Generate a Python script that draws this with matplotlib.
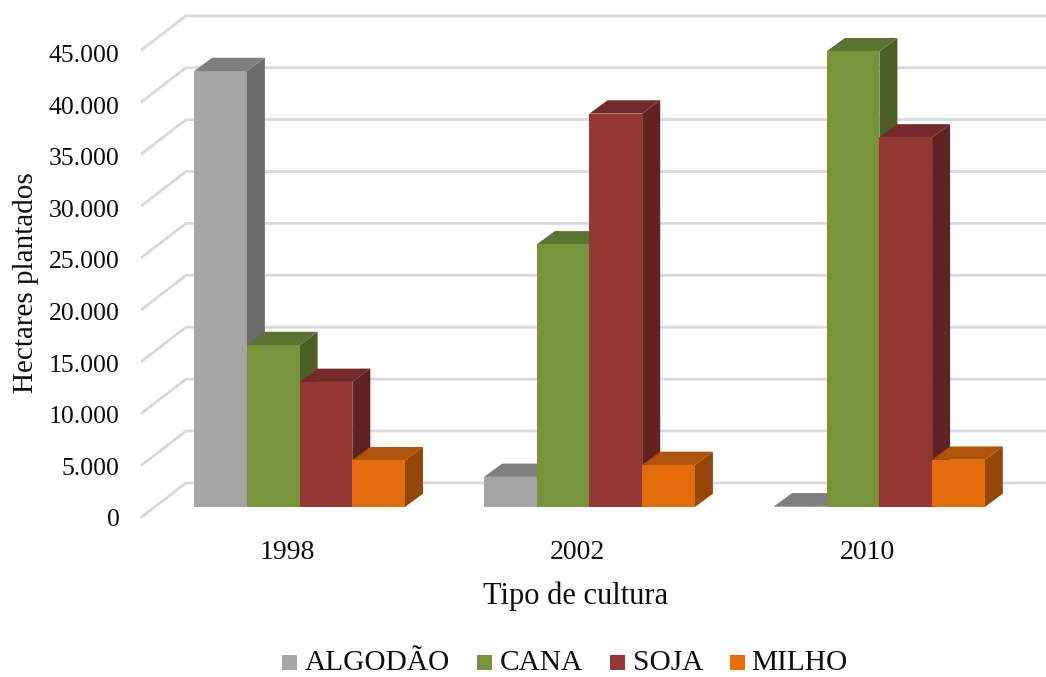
import matplotlib
matplotlib.use("Agg")
import matplotlib.pyplot as plt
from matplotlib.patches import Rectangle
from matplotlib.collections import PolyCollection

plt.rcParams['font.family'] = ['Liberation Serif', 'DejaVu Serif']

years = ['1998', '2002', '2010']
series_names = ['ALGODÃO', 'CANA', 'SOJA', 'MILHO']
algodao = [42000, 2900, 60]
cana = [15600, 25300, 43900]
soja = [12050, 37900, 35600]
milho = [4500, 4050, 4550]
series_values = [algodao, cana, soja, milho]
front_colors = ['#A5A5A5', '#77933C', '#953735', '#E46C0A']
side_colors = ['#6B6B6B', '#4C5F27', '#612322', '#944607']
top_colors = ['#7F7F7F', '#5C7230', '#732A29', '#AF5308']
y_ticks = list(range(0, 45001, 5000))

W, H = 1046, 677
TEXT = '#0D0D0D'
fig = plt.figure(figsize=(W / 100, H / 100), dpi=100, facecolor='white')
ax = fig.add_axes([0, 0, 1, 1])

# Pixel scale of the oblique projection: x in category units, y in hectares.
px_per_cat = 289.9
px_per_val = 51.9 / 5000
x0_px = 299.6
y0_px = 507.0
ax.set_xlim(-x0_px / px_per_cat, (W - x0_px) / px_per_cat)
ax.set_ylim(-(H - y0_px) / px_per_val, y0_px / px_per_val)
ax.axis('off')


def fx(px):
    return (px - x0_px) / px_per_cat


def fy(px):
    return (y0_px - px) / px_per_val


bar_w = 52.7 / px_per_cat
depth_x = 18.0 / px_per_cat
depth_y = 13.3 / px_per_val

# Back wall grid lines with their diagonal run across the floor plane.
back_x, back_dy = fx(186), 24.1 / px_per_val
front_x, front_dy = fx(141), -10.5 / px_per_val
right_edge = fx(W)
for v in y_ticks:
    ax.plot([front_x, back_x, right_edge], [v + front_dy, v + back_dy, v + back_dy],
            color='#D9D9D9', lw=2.0, solid_capstyle='butt', zorder=1)
    ax.text(fx(119.5), v * 0.994 - 19.3 / px_per_val, f'{v:,}'.replace(',', '.'),
            ha='right', va='baseline', fontsize=18.5, color=TEXT)

for g in range(len(years)):
    for s in range(len(series_names)):
        val = series_values[s][g]
        left = g + (s - 2) * bar_w
        right = left + bar_w
        order = 3 + s + g * 10
        side = [(right, 0), (right + depth_x, depth_y), (right + depth_x, val + depth_y), (right, val)]
        top = [(left, val), (left + depth_x, val + depth_y), (right + depth_x, val + depth_y), (right, val)]
        ax.add_collection(PolyCollection([side], facecolors=side_colors[s], edgecolors='none', zorder=order))
        ax.add_collection(PolyCollection([top], facecolors=top_colors[s], edgecolors='none', zorder=order))
        ax.bar(left, val, width=bar_w, align='edge', color=front_colors[s], zorder=order + 0.5)

for g, year in enumerate(years):
    ax.text(g + fx(287.5), fy(559.3), year, ha='center', va='baseline', fontsize=20, color=TEXT)

ax.text(fx(576), fy(604), 'Tipo de cultura', ha='center', va='baseline', fontsize=22, color=TEXT)
ax.text(fx(26.5), fy(283), 'Hectares plantados', rotation=90, ha='center', va='center', fontsize=21, color=TEXT)

# Legend row along the bottom edge of the figure.
legend_base = 670.0
swatch_left = [282, 477.3, 610, 730]
label_left = [304.3, 499.3, 632.7, 751.7]
for sw, tx, name, col in zip(swatch_left, label_left, series_names, front_colors):
    ax.add_patch(Rectangle((fx(sw), fy(legend_base)), 14.8 / px_per_cat, 15 / px_per_val, color=col, lw=0))
    ax.text(fx(tx), fy(legend_base), name, ha='left', va='baseline', fontsize=21.2, color=TEXT)

fig.savefig('out.png', dpi=100, facecolor='white')
